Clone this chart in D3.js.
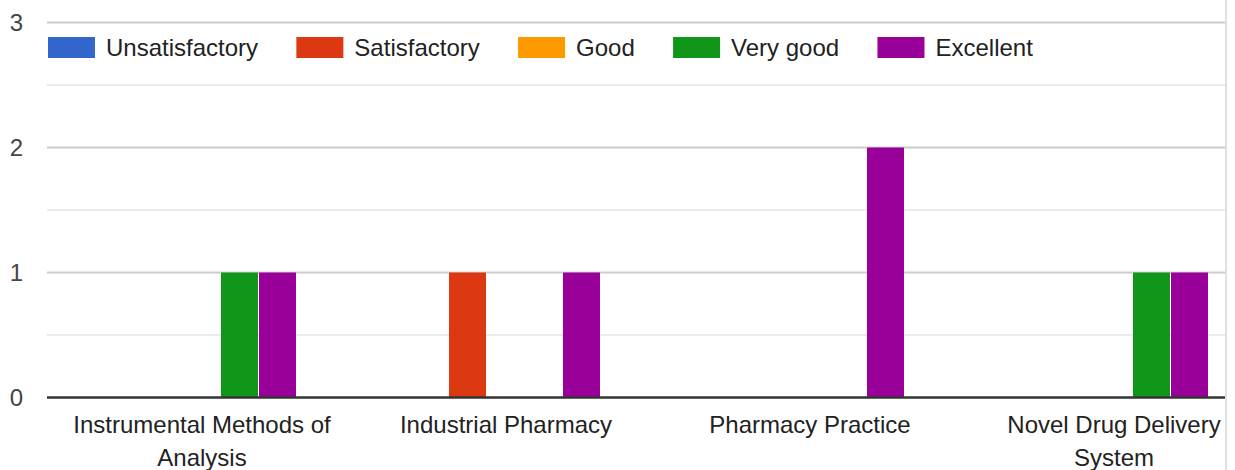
<!DOCTYPE html>
<html>
<head>
<meta charset="utf-8">
<script src="https://cdn.jsdelivr.net/npm/d3@7"></script>
<style>
  html, body { margin: 0; padding: 0; background: #fff; }
  svg { display: block; font-family: "Liberation Sans", Arial, sans-serif; }
</style>
</head>
<body>
<svg id="chart" width="1235" height="470"></svg>
<script>
const categories = ["Instrumental Methods of Analysis", "Industrial Pharmacy", "Pharmacy Practice", "Novel Drug Delivery System"];
const seriesNames = ["Unsatisfactory", "Satisfactory", "Good", "Very good", "Excellent"];
const seriesColors = ["#3366cc", "#dc3912", "#ff9900", "#109618", "#990099"];
const unsatisfactory = [0, 0, 0, 0];
const satisfactory = [0, 1, 0, 0];
const good = [0, 0, 0, 0];
const veryGood = [1, 0, 0, 1];
const excellent = [1, 1, 2, 1];
const yTicks = [0, 1, 2, 3];
const yMinorTicks = [0.5, 1.5, 2.5];

const seriesValues = [unsatisfactory, satisfactory, good, veryGood, excellent];
const W = 1235, H = 470;
const plotLeft = 47, plotRight = 1225;
const svg = d3.select("#chart");
const textColor = "#222222";
const fontSize = 24;

const y = d3.scaleLinear().domain([0, 3]).range([397.5, 22.5]);
const x0 = d3.scaleBand().domain(categories).range([107, 1209]).paddingInner(0.375).paddingOuter(0);
const x1 = d3.scaleBand().domain(seriesNames).range([0, x0.bandwidth()]).padding(0);

// right border
svg.append("line").attr("x1", 1226).attr("x2", 1226).attr("y1", 0).attr("y2", H)
  .attr("stroke", "#e0e0e0").attr("stroke-width", 2);

// minor gridlines
svg.append("g").selectAll("line").data(yMinorTicks).join("line")
  .attr("x1", plotLeft).attr("x2", plotRight)
  .attr("y1", d => y(d)).attr("y2", d => y(d))
  .attr("stroke", "#ebebeb").attr("stroke-width", 2);

// major gridlines
svg.append("g").selectAll("line").data(yTicks.filter(d => d !== 0)).join("line")
  .attr("x1", plotLeft).attr("x2", plotRight)
  .attr("y1", d => y(d)).attr("y2", d => y(d))
  .attr("stroke", "#cccccc").attr("stroke-width", 2);

// y tick labels
svg.append("g").selectAll("text").data(yTicks).join("text")
  .attr("x", 23).attr("y", d => y(d)).attr("dy", "0.35em")
  .attr("text-anchor", "end").attr("font-size", fontSize).attr("fill", "#444")
  .text(d => d);

// bars
const groups = svg.append("g").selectAll("g").data(categories).join("g")
  .attr("transform", d => `translate(${x0(d)},0)`);
groups.selectAll("rect")
  .data((c, i) => seriesNames.map((s, k) => ({ s, k, v: seriesValues[k][i] })))
  .join("rect")
  .attr("x", d => x1(d.s))
  .attr("width", x1.bandwidth() - 1)
  .attr("y", d => y(d.v))
  .attr("height", d => y(0) - y(d.v))
  .attr("fill", d => seriesColors[d.k]);

// baseline
svg.append("line").attr("x1", plotLeft).attr("x2", plotRight)
  .attr("y1", y(0)).attr("y2", y(0))
  .attr("stroke", "#333333").attr("stroke-width", 2.5);

// x labels with wrapping
const maxLabelWidth = 270;
const xl = svg.append("g");
categories.forEach(c => {
  const cx = x0(c) + x0.bandwidth() / 2;
  const words = c.split(" ");
  const lines = [];
  let cur = [];
  const probe = xl.append("text").attr("font-size", fontSize);
  words.forEach(w => {
    const test = cur.concat([w]).join(" ");
    probe.text(test);
    if (probe.node().getComputedTextLength() > maxLabelWidth && cur.length) {
      lines.push(cur.join(" "));
      cur = [w];
    } else cur.push(w);
  });
  lines.push(cur.join(" "));
  probe.remove();
  lines.forEach((ln, i) => {
    xl.append("text").attr("x", cx).attr("y", 433 + i * 33)
      .attr("text-anchor", "middle").attr("font-size", fontSize).attr("fill", textColor)
      .text(ln);
  });
});

// legend
const legend = svg.append("g");
let lx = 48;
seriesNames.forEach((s, k) => {
  legend.append("rect").attr("x", lx).attr("y", 37).attr("width", 47).attr("height", 21)
    .attr("fill", seriesColors[k]);
  const t = legend.append("text").attr("x", lx + 58).attr("y", 56)
    .attr("font-size", fontSize).attr("fill", textColor).text(s);
  lx += 58 + t.node().getComputedTextLength() + 38.3;
});
</script>
</body>
</html>
